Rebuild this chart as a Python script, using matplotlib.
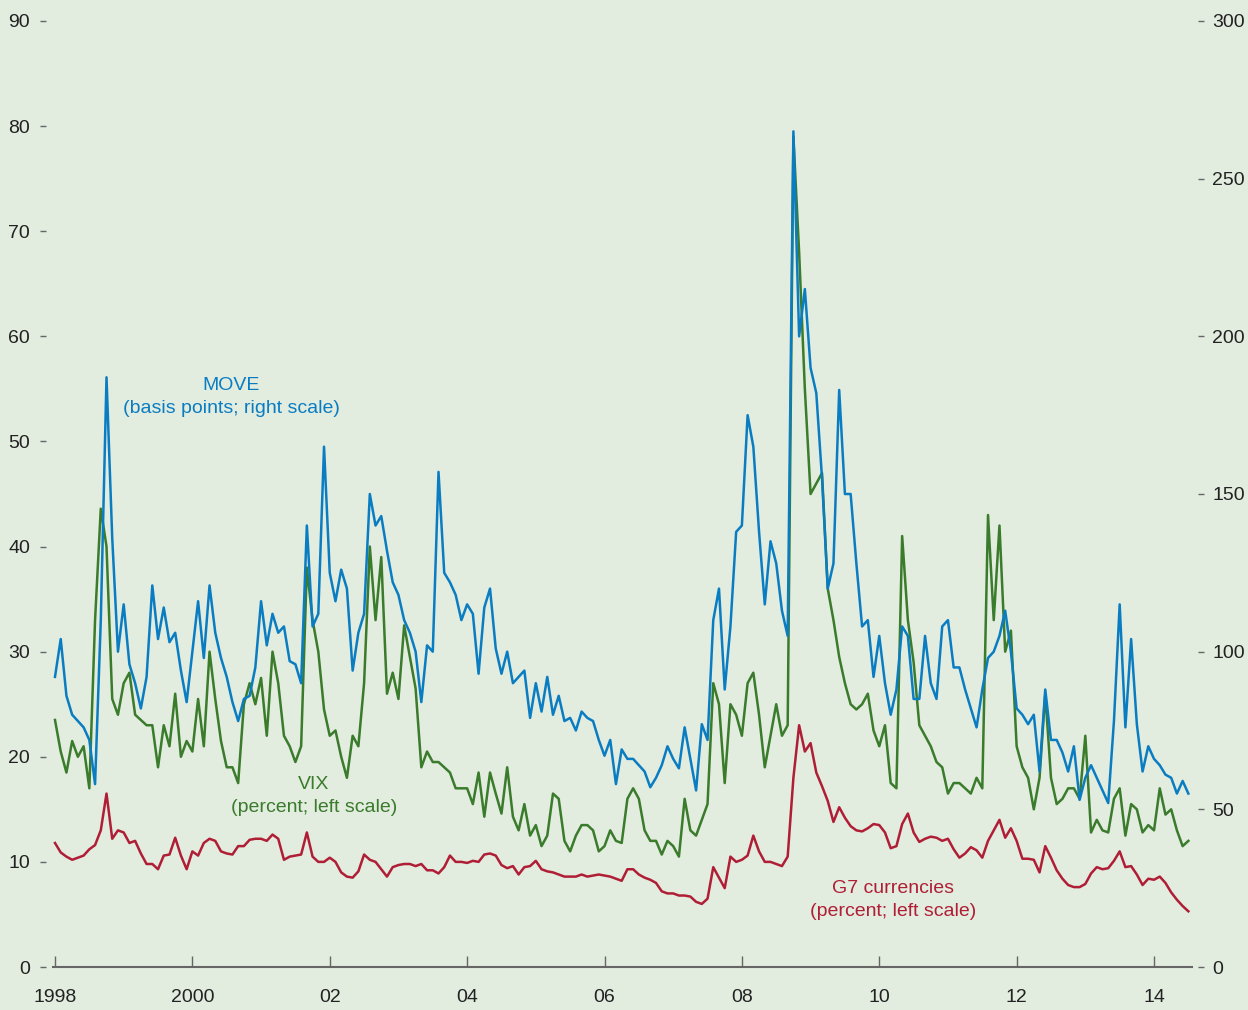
import numpy as np
import matplotlib
matplotlib.use("Agg")
import matplotlib.pyplot as plt

# Monthly readings, Jan 1998 .. Jul 2014
move = [
    92, 104, 86, 80, 78, 76, 72, 58, 110, 187,
    136, 100, 115, 96, 90, 82, 92, 121, 104, 114,
    103, 106, 94, 84, 100, 116, 98, 121, 106, 98,
    92, 84, 78, 85, 86, 95, 116, 102, 112, 106,
    108, 97, 96, 90, 140, 108, 112, 165, 125, 116,
    126, 120, 94, 106, 112, 150, 140, 143, 132, 122,
    118, 110, 106, 100, 84, 102, 100, 157, 125, 122,
    118, 110, 115, 112, 93, 114, 120, 101, 93, 100,
    90, 92, 94, 79, 90, 81, 92, 80, 86, 78,
    79, 75, 81, 79, 78, 72, 67, 72, 58, 69,
    66, 66, 64, 62, 57, 60, 64, 70, 66, 63,
    76, 66, 56, 77, 72, 110, 120, 88, 108, 138,
    140, 175, 165, 138, 115, 135, 128, 113, 105, 265,
    200, 215, 190, 182, 155, 120, 128, 183, 150, 150,
    128, 108, 110, 92, 105, 90, 80, 88, 108, 105,
    85, 85, 105, 90, 85, 108, 110, 95, 95, 88,
    82, 76, 88, 98, 100, 105, 113, 100, 82, 80,
    77, 80, 62, 88, 72, 72, 68, 62, 70, 53,
    60, 64, 60, 56, 52, 78, 115, 76, 104, 77,
    62, 70, 66, 64, 61, 60, 55, 59, 55,
]

vix = [
    23.5, 20.5, 18.5, 21.5, 20, 21, 17, 33, 43.6, 40,
    25.5, 24, 27, 28, 24, 23.5, 23, 23, 19, 23,
    21, 26, 20, 21.5, 20.5, 25.5, 21, 30, 25.5, 21.5,
    19, 19, 17.5, 25, 27, 25, 27.5, 22, 30, 27,
    22, 21, 19.5, 21, 38, 33, 30, 24.5, 22, 22.5,
    20, 18, 22, 21, 27, 40, 33, 39, 26, 28,
    25.5, 32.5, 29.5, 26.5, 19, 20.5, 19.5, 19.5, 19, 18.5,
    17, 17, 17, 15.5, 18.5, 14.3, 18.5, 16.5, 14.6, 19,
    14.3, 13, 15.5, 12.5, 13.5, 11.5, 12.5, 16.5, 16, 12,
    11, 12.5, 13.5, 13.5, 13, 11, 11.5, 13, 12, 11.8,
    16, 17, 16, 13, 12, 12, 10.7, 12, 11.5, 10.5,
    16, 13, 12.5, 14, 15.5, 27, 25, 17.5, 25, 24,
    22, 27, 28, 24, 19, 22, 25, 22, 23, 79,
    68, 55, 45, 46, 47, 36, 33, 29.5, 27, 25,
    24.5, 25, 26, 22.5, 21, 23, 17.5, 17, 41, 33,
    29, 23, 22, 21, 19.5, 19, 16.5, 17.5, 17.5, 17,
    16.5, 18, 17, 43, 33, 42, 30, 32, 21, 19,
    18, 15, 18, 26, 18, 15.5, 16, 17, 17, 16,
    22, 12.8, 14, 13, 12.8, 16, 17, 12.5, 15.5, 15,
    12.8, 13.5, 13, 17, 14.5, 15, 13, 11.5, 12,
]

g7 = [
    11.8, 10.9, 10.5, 10.2, 10.4, 10.6, 11.2, 11.6, 13.0, 16.5,
    12.2, 13.0, 12.8, 11.8, 12.0, 10.8, 9.8, 9.8, 9.3, 10.6,
    10.7, 12.3, 10.6, 9.3, 11.0, 10.6, 11.8, 12.2, 12.0, 11.0,
    10.8, 10.7, 11.5, 11.5, 12.1, 12.2, 12.2, 12.0, 12.6, 12.2,
    10.2, 10.5, 10.6, 10.7, 12.8, 10.5, 10.0, 10.0, 10.4, 10.0,
    9.0, 8.6, 8.5, 9.1, 10.7, 10.2, 10.0, 9.3, 8.6, 9.5,
    9.7, 9.8, 9.8, 9.6, 9.8, 9.2, 9.2, 8.9, 9.5, 10.6,
    10.0, 10.0, 9.9, 10.1, 10.0, 10.7, 10.8, 10.6, 9.7, 9.4,
    9.6, 8.8, 9.5, 9.6, 10.1, 9.3, 9.1, 9.0, 8.8, 8.6,
    8.6, 8.6, 8.8, 8.6, 8.7, 8.8, 8.7, 8.6, 8.4, 8.2,
    9.3, 9.3, 8.8, 8.5, 8.3, 8.0, 7.2, 7.0, 7.0, 6.8,
    6.8, 6.7, 6.2, 6.0, 6.5, 9.5, 8.5, 7.5, 10.5, 10.0,
    10.2, 10.6, 12.5, 11.0, 10.0, 10.0, 9.8, 9.6, 10.5, 18.0,
    23.0, 20.5, 21.3, 18.5, 17.2, 15.8, 13.8, 15.2, 14.2, 13.4,
    13.0, 12.9, 13.2, 13.6, 13.5, 12.8, 11.3, 11.5, 13.6, 14.6,
    12.8, 11.9, 12.2, 12.4, 12.3, 12.0, 12.2, 11.2, 10.4, 10.8,
    11.4, 11.1, 10.4, 12.0, 13.0, 14.0, 12.3, 13.2, 12.0, 10.3,
    10.3, 10.2, 9.0, 11.5, 10.4, 9.2, 8.4, 7.8, 7.6, 7.6,
    7.9, 8.9, 9.5, 9.3, 9.4, 10.1, 11.0, 9.5, 9.6, 8.8,
    7.8, 8.4, 8.3, 8.6, 8.0, 7.1, 6.4, 5.8, 5.3,
]

year_ticks = [1998, 2000, 2002, 2004, 2006, 2008, 2010, 2012, 2014]
year_labels = ["1998", "2000", "02", "04", "06", "08", "10", "12", "14"]
left_ticks = list(range(0, 91, 10))
right_ticks = list(range(0, 301, 50))

BG = "#e2ecdf"
BLUE = "#0a7dc2"
GREEN = "#3a7b2c"
RED = "#b01e36"
GREY = "#666666"
TXT = "#222222"

plt.rcParams["font.family"] = ["Liberation Sans", "DejaVu Sans"]

t = 1998 + np.arange(len(vix)) / 12.0

fig = plt.figure(figsize=(12.48, 10.10), dpi=100, facecolor=BG)
ax = fig.add_axes([53 / 1248, 43 / 1010, 1139 / 1248, 946 / 1010])
ax.set_facecolor(BG)
ax2 = ax.twinx()
ax2.patch.set_visible(False)

ax.plot(t, vix, color=GREEN, lw=1.8)
ax.plot(t, g7, color=RED, lw=1.8)
ax2.plot(t, move, color=BLUE, lw=1.8)

ax.set_xlim(1997.971, 2014.553)
ax.set_ylim(0, 90)
ax2.set_ylim(0, 300)

for a in (ax, ax2):
    for s in ("top", "left", "right", "bottom"):
        a.spines[s].set_visible(False)
ax.spines["bottom"].set_visible(True)
ax.spines["bottom"].set_color(GREY)
ax.spines["bottom"].set_linewidth(1.5)

ax.spines["left"].set_position(("outward", 5))
ax2.spines["right"].set_position(("outward", 4))

ax.set_xticks(year_ticks)
ax.set_xticklabels(year_labels)
ax.tick_params(axis="x", direction="in", length=8, width=1, color=GREY,
               pad=16, labelsize=14, labelcolor=TXT)
ax.set_yticks(left_ticks)
ax.tick_params(axis="y", direction="out", length=4.5, width=1, color=GREY,
               pad=7, labelsize=14, labelcolor=TXT)
ax2.set_yticks(right_ticks)
ax2.tick_params(axis="y", direction="out", length=4.5, width=1, color=GREY,
                pad=6, labelsize=14, labelcolor=TXT)


def label(x, y, s, color):
    fig.text(x / 1248, 1 - y / 1010, s, color=color, fontsize=14,
             ha="center", va="center", linespacing=1.45)


label(231, 397, "MOVE\n(basis points; right scale)", BLUE)
label(314, 796, "VIX\n(percent; left scale)", GREEN)
label(893, 900, "G7 currencies\n(percent; left scale)", RED)

fig.savefig("out.png", dpi=100, facecolor=BG)
